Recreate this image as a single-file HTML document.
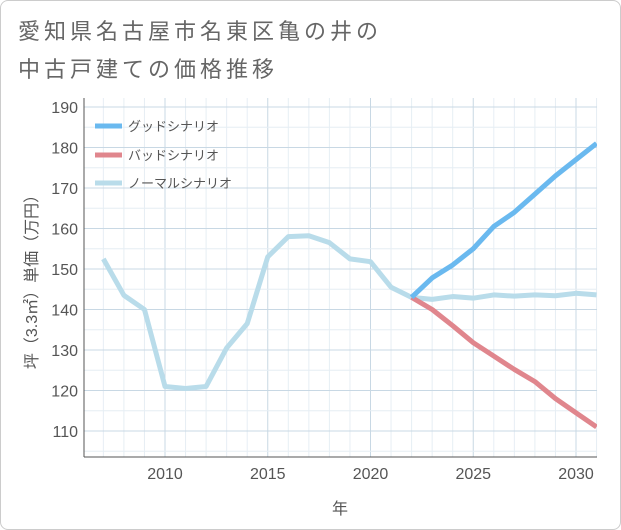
<!DOCTYPE html>
<html><head><meta charset="utf-8"><style>
body{margin:0;background:#fff;font-family:"Liberation Sans","Noto Sans CJK JP",sans-serif;}
#wrap{position:relative;width:619px;height:528px;border:1px solid #ccc;border-radius:8px;overflow:hidden;}
#title{position:absolute;left:17px;top:12px;font-size:22px;letter-spacing:4px;line-height:38px;color:#666;}
</style></head><body>
<div id="wrap">
<div id="title">愛知県名古屋市名東区亀の井の<br>中古戸建ての価格推移</div>
<svg id="chart" width="621" height="530" style="position:absolute;left:-1px;top:-1px"></svg>
</div>
<script>
const years=[2007,2008,2009,2010,2011,2012,2013,2014,2015,2016,2017,2018,2019,2020,2021,2022,2023,2024,2025,2026,2027,2028,2029,2030,2031];
const normalVals=[152.5,143.5,140,121,120.5,121,130.5,136.5,153,158,158.2,156.5,152.5,151.8,145.5,143,142.5,143.2,142.8,143.6,143.3,143.6,143.4,144,143.6];
const goodYears=[2022,2023,2024,2025,2026,2027,2028,2029,2030,2031];
const goodVals=[143,147.8,151,155,160.5,164,168.5,173,177,181];
const badVals=[143,140,136,131.8,128.5,125.2,122.2,118,114.5,111];
const xTicks=[2010,2015,2020,2025,2030];
const yTicks=[110,120,130,140,150,160,170,180,190];
const NS="http://www.w3.org/2000/svg";
const svg=document.getElementById('chart');
const L=84,R=597,T=98,B=457;
const x=v=>165+(v-2010)*20.55;
const y=v=>431-(v-110)*4.05;
function mk(tag,attrs,parent){const e=document.createElementNS(NS,tag);for(const k in attrs)e.setAttribute(k,attrs[k]);(parent||svg).appendChild(e);return e;}
for(let yr=2007;yr<=2031;yr++){
 const g=mk('line',{x1:x(yr),x2:x(yr),y1:T,y2:B,stroke:xTicks.includes(yr)?'#c8d8e4':'#e6eef4','stroke-width':1});
 
 
}
for(let v=105;v<=190;v+=5){
 const g=mk('line',{x1:L,x2:R,y1:y(v),y2:y(v),stroke:v%10===0?'#c8d8e4':'#e6eef4','stroke-width':1});
 
 
}
const ax=mk('line',{x1:L,x2:L,y1:T,y2:B,stroke:'#555'});


const bx=mk('line',{x1:L,x2:R,y1:B,y2:B,stroke:'#555'});


yTicks.forEach(v=>{const t=mk('text',{x:78,y:y(v)+6,'text-anchor':'end','font-size':16,fill:'#555'});t.textContent=v;
 
 });
xTicks.forEach(v=>{const t=mk('text',{x:x(v),y:479,'text-anchor':'middle','font-size':16,fill:'#555'});t.textContent=v;
 
 });
const xt=mk('text',{x:340,y:514,'text-anchor':'middle','font-size':16,fill:'#555'});xt.textContent='年';


const yt=mk('text',{x:0,y:0,'text-anchor':'middle','font-size':16,fill:'#555',transform:'translate(37,278) rotate(-90)'});yt.textContent='坪（3.3㎡）単価（万円）';


const defs=mk('defs',{});const cp=mk('clipPath',{id:'c'},defs);mk('rect',{x:L,y:T,width:R-L,height:B-T},cp);
function line(xs,vs,color,name){const p=mk('polyline',{points:xs.map((yr,i)=>x(yr)+','+y(vs[i])).join(' '),fill:'none',stroke:color,'stroke-width':5,'stroke-linejoin':'round','clip-path':'url(#c)'});
 
 }
line(years,normalVals,'#b9dcea','normal-scenario-line');
line(goodYears,badVals,'#e0868d','bad-scenario-line');
line(goodYears,goodVals,'#6ab9ef','good-scenario-line');
[['グッドシナリオ','#6ab9ef',126],['バッドシナリオ','#e0868d',155],['ノーマルシナリオ','#b9dcea',183]].forEach(([lab,c,yy])=>{
 const g=mk('g',{});
 
 
 mk('line',{x1:95,x2:122,y1:yy,y2:yy,stroke:c,'stroke-width':5},g);
 const t=mk('text',{x:128,y:yy+5,'font-size':13,fill:'#555'},g);t.textContent=lab;
});
</script>
</body></html>
